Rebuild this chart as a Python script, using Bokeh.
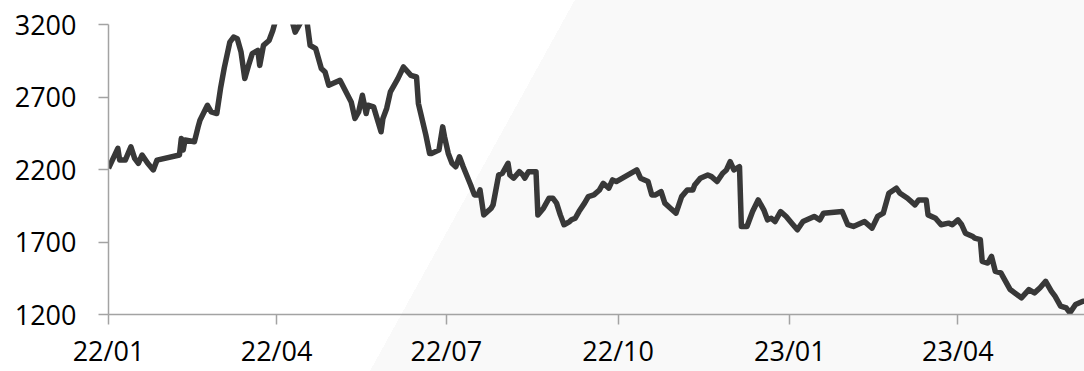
from datetime import datetime, timedelta
import pandas as pd
from bokeh.plotting import figure
from bokeh.models import Range1d, FixedTicker, ColumnDataSource
from bokeh.embed import file_html
from bokeh.resources import INLINE

dates = [
    "2022-01-01", "2022-01-06", "2022-01-07", "2022-01-10", "2022-01-13", "2022-01-15", "2022-01-17", "2022-01-19", "2022-01-22", "2022-01-25", "2022-01-27",
    "2022-02-08", "2022-02-09", "2022-02-10", "2022-02-11", "2022-02-16", "2022-02-18", "2022-02-19", "2022-02-23", "2022-02-25", "2022-02-28",
    "2022-03-02", "2022-03-04", "2022-03-07", "2022-03-09", "2022-03-11", "2022-03-13", "2022-03-15", "2022-03-17", "2022-03-19", "2022-03-22", "2022-03-23", "2022-03-25", "2022-03-28", "2022-03-30",
    "2022-04-01", "2022-04-07", "2022-04-09", "2022-04-11", "2022-04-15", "2022-04-17", "2022-04-19", "2022-04-22", "2022-04-25", "2022-04-27", "2022-04-29",
    "2022-05-05", "2022-05-11", "2022-05-12", "2022-05-13", "2022-05-15", "2022-05-17", "2022-05-19", "2022-05-20", "2022-05-23", "2022-05-27", "2022-05-28", "2022-05-30",
    "2022-06-01", "2022-06-05", "2022-06-08", "2022-06-12", "2022-06-15", "2022-06-16", "2022-06-20", "2022-06-22", "2022-06-23", "2022-06-27", "2022-06-29", "2022-06-30",
    "2022-07-02", "2022-07-04", "2022-07-06", "2022-07-08", "2022-07-10", "2022-07-14", "2022-07-16", "2022-07-18", "2022-07-19", "2022-07-21", "2022-07-25", "2022-07-26", "2022-07-29", "2022-07-31",
    "2022-08-03", "2022-08-04", "2022-08-06", "2022-08-09", "2022-08-11", "2022-08-12", "2022-08-14", "2022-08-18", "2022-08-19", "2022-08-22", "2022-08-25", "2022-08-27", "2022-08-29", "2022-08-31",
    "2022-09-02", "2022-09-05", "2022-09-06", "2022-09-08", "2022-09-10", "2022-09-13", "2022-09-15", "2022-09-18", "2022-09-21", "2022-09-23", "2022-09-26", "2022-09-28", "2022-09-30",
    "2022-10-11", "2022-10-13", "2022-10-17", "2022-10-19", "2022-10-21", "2022-10-24", "2022-10-26", "2022-10-29",
    "2022-11-01", "2022-11-04", "2022-11-07", "2022-11-10", "2022-11-11", "2022-11-14", "2022-11-18", "2022-11-20", "2022-11-23", "2022-11-26", "2022-11-28", "2022-11-30",
    "2022-12-02", "2022-12-05", "2022-12-06", "2022-12-09", "2022-12-12", "2022-12-15", "2022-12-18", "2022-12-20", "2022-12-22", "2022-12-24", "2022-12-27", "2022-12-30",
    "2023-01-02", "2023-01-05", "2023-01-08", "2023-01-14", "2023-01-17", "2023-01-19", "2023-01-29",
    "2023-02-01", "2023-02-04", "2023-02-10", "2023-02-14", "2023-02-17", "2023-02-20", "2023-02-23", "2023-02-27",
    "2023-03-01", "2023-03-05", "2023-03-09", "2023-03-11", "2023-03-15", "2023-03-16", "2023-03-20", "2023-03-23", "2023-03-27", "2023-03-29",
    "2023-04-01", "2023-04-03", "2023-04-05", "2023-04-09", "2023-04-10", "2023-04-13", "2023-04-14", "2023-04-17", "2023-04-19", "2023-04-21", "2023-04-24", "2023-04-26", "2023-04-29",
    "2023-05-05", "2023-05-09", "2023-05-12", "2023-05-15", "2023-05-18", "2023-05-21", "2023-05-23", "2023-05-26", "2023-05-29", "2023-05-31",
    "2023-06-03", "2023-06-07", "2023-06-08",
]

prices = [
    2208, 2346, 2265, 2265, 2357, 2277, 2243, 2300, 2243, 2197, 2265,
    2300, 2414, 2334, 2403, 2391, 2494, 2540, 2643, 2597, 2586,
    2758, 2900, 3079, 3113, 3101, 3010, 2827, 2918, 2999, 3021, 2918, 3056, 3090, 3159,
    3250, 3260, 3240, 3147, 3240, 3250, 3056, 3033, 2896, 2872, 2781,
    2815, 2666, 2609, 2552, 2597, 2712, 2586, 2643, 2632, 2460, 2552, 2621,
    2735, 2827, 2907, 2849, 2838, 2655, 2437, 2311, 2311, 2334, 2494, 2425,
    2311, 2243, 2219, 2288, 2219, 2093, 2025, 2025, 2059, 1887, 1933, 1956, 2162, 2174,
    2243, 2162, 2140, 2185, 2162, 2140, 2185, 2185, 1887, 1933, 2002, 2002, 1968, 1887,
    1819, 1841, 1853, 1864, 1910, 1968, 2013, 2025, 2059, 2105, 2071, 2128, 2117,
    2197, 2140, 2117, 2025, 2025, 2048, 1968, 1933,
    1899, 2013, 2059, 2059, 2093, 2140, 2162, 2151, 2117, 2174, 2197, 2254,
    2197, 2219, 1807, 1807, 1910, 1990, 1922, 1853, 1864, 1841, 1910, 1876,
    1830, 1784, 1841, 1876, 1853, 1899, 1910,
    1819, 1807, 1841, 1796, 1876, 1899, 2036, 2071,
    2036, 2002, 1956, 1990, 1990, 1887, 1864, 1819, 1830, 1819,
    1853, 1819, 1761, 1738, 1727, 1716, 1567, 1555, 1601, 1498, 1487, 1441, 1372,
    1315, 1372, 1349, 1384, 1429, 1361, 1326, 1258, 1246, 1212,
    1269, 1292, 1292,
]

y_ticks = [1200, 1700, 2200, 2700, 3200]
x_tick_dates = ["2022-01-01", "2022-04-01", "2022-07-01", "2022-10-01", "2023-01-01", "2023-04-01"]
x_tick_labels = ["22/01", "22/04", "22/07", "22/10", "23/01", "23/04"]

assert len(dates) == len(prices)

x = pd.to_datetime(dates)
src = ColumnDataSource(dict(x=x, y=prices))

def ms(s):
    return pd.Timestamp(s).value / 1e6

x_start = datetime(2022, 1, 1)
x_end = x_start + timedelta(days=522.8)

p = figure(
    width=1084, height=371,
    x_axis_type="datetime",
    x_range=Range1d(x_start, x_end),
    y_range=Range1d(1200, 3200),
    output_backend="svg", toolbar_location=None,
    min_border_left=108, min_border_right=0, min_border_top=24, min_border_bottom=56,
)
p.background_fill_color = None
p.border_fill_color = None
p.outline_line_color = None
p.grid.visible = False
p.styles = {"background": "linear-gradient(118.9deg, #ffffff 44.6%, #f9f9f9 44.6%)"}

p.line("x", "y", source=src, line_color="#383838", line_width=5.5, line_join="round")

font = "Open Sans"
for ax in (p.xaxis[0], p.yaxis[0]):
    ax.axis_line_color = "#a3a3a3"
    ax.axis_line_width = 1.5
    ax.major_tick_line_color = "#a3a3a3"
    ax.major_tick_line_width = 1.5
    ax.major_tick_in = 0
    ax.major_tick_out = 10
    ax.minor_tick_line_color = None
    ax.major_label_text_font = font
    ax.major_label_text_font_size = "27px"
    ax.major_label_text_color = "#000000"
    ax.major_label_text_line_height = 1.0

tick_ms = [ms(d) for d in x_tick_dates]
p.xaxis[0].ticker = FixedTicker(ticks=tick_ms)
p.xaxis[0].major_label_overrides = {t: lab for t, lab in zip(tick_ms, x_tick_labels)}
p.xaxis[0].major_label_standoff = 7

p.yaxis[0].ticker = FixedTicker(ticks=y_ticks)
p.yaxis[0].major_label_overrides = {t: str(t) for t in y_ticks}
p.yaxis[0].major_label_standoff = 22

open("out.html", "w").write(file_html(p, INLINE))
